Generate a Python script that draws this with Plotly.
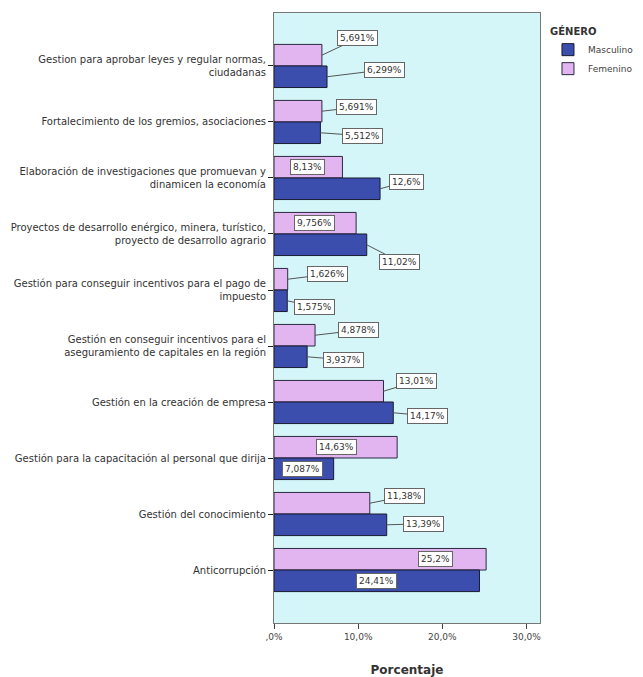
import plotly.graph_objects as go

categories = [
    "Gestion para aprobar leyes y regular normas,<br>ciudadanas",
    "Fortalecimiento de los gremios, asociaciones",
    "Elaboración de investigaciones que promuevan y<br>dinamicen la economía",
    "Proyectos de desarrollo enérgico, minera, turístico,<br>proyecto de desarrollo agrario",
    "Gestión para conseguir incentivos para el pago de<br>impuesto",
    "Gestión en conseguir incentivos para el<br>aseguramiento de capitales en la región",
    "Gestión en la creación de empresa",
    "Gestión para la capacitación al personal que dirija",
    "Gestión del conocimiento",
    "Anticorrupción",
]
masculino = [6.299, 5.512, 12.6, 11.02, 1.575, 3.937, 14.17, 7.087, 13.39, 24.41]
femenino = [5.691, 5.691, 8.13, 9.756, 1.626, 4.878, 13.01, 14.63, 11.38, 25.2]
masc_labels = ["6,299%", "5,512%", "12,6%", "11,02%", "1,575%", "3,937%", "14,17%", "7,087%", "13,39%", "24,41%"]
fem_labels = ["5,691%", "5,691%", "8,13%", "9,756%", "1,626%", "4,878%", "13,01%", "14,63%", "11,38%", "25,2%"]
x_tickvals = [0, 10, 20, 30]
x_ticktext = [",0%", "10,0%", "20,0%", "30,0%"]

# label callout offsets in pixels (style): (ax, ay) or inside shift (dx, None)
fem_offsets = [(36, -17), (35, -4), (-35, None), (-42, None), (40, -5), (43, -5), (33, -10), (-61, None), (35, -7), (-51, None)]
masc_offsets = [(57, -7), (42, 3), (26, -7), (33, 17), (27, 6), (36, 3), (34, 3), (-31, None), (37, -1), (-103, None)]

C_MASC = "#3c4ead"
C_FEM = "#e2b4f0"
BG = "#d4f6f8"
BARGAP = 0.23
FONT = "DejaVu Sans, Liberation Sans, Arial"

fig = go.Figure()
fig.add_trace(go.Bar(y=categories, x=femenino, orientation="h", name="Femenino",
                     marker=dict(color=C_FEM, line=dict(color="#2a2a40", width=1))))
fig.add_trace(go.Bar(y=categories, x=masculino, orientation="h", name="Masculino",
                     marker=dict(color=C_MASC, line=dict(color="#1a1a30", width=1))))

half = (1 - BARGAP) / 4
annotations = []
for i in range(len(categories)):
    for val, lab, off, dy in ((femenino[i], fem_labels[i], fem_offsets[i], -half),
                              (masculino[i], masc_labels[i], masc_offsets[i], half)):
        base = dict(x=val, y=i + dy, xref="x", yref="y", text=lab,
                    font=dict(family=FONT, size=9, color="#333"),
                    bgcolor="white", bordercolor="#666", borderwidth=1, borderpad=2)
        if off[1] is None:
            base.update(showarrow=False, xshift=off[0])
        else:
            base.update(showarrow=True, arrowhead=0, arrowwidth=1, arrowcolor="#555",
                        ax=off[0], ay=off[1], standoff=0)
        annotations.append(base)

# page body adds an 8px margin, so the figure is sized to fit the 643x677 window
fig.update_layout(
    width=635, height=669,
    margin=dict(l=266, r=103, t=5, b=54, autoexpand=False),
    paper_bgcolor="white", plot_bgcolor=BG,
    barmode="group", bargap=BARGAP, bargroupgap=0,
    font=dict(family=FONT, size=10, color="#333"),
    annotations=annotations,
    legend=dict(title=dict(text="<b>GÉNERO</b>", font=dict(size=10, color="#333"), side="top"),
                traceorder="reversed", x=1.03, xanchor="left", y=0.985, yanchor="top",
                font=dict(size=9, color="#444"), bgcolor="rgba(0,0,0,0)",
                itemwidth=30, tracegroupgap=0),
    xaxis=dict(range=[0, 31.6], tickvals=x_tickvals, ticktext=x_ticktext,
               tickfont=dict(size=9, color="#444", family=FONT), automargin=False,
               ticks="outside", ticklen=5, tickcolor="#444", showgrid=False, zeroline=False,
               showline=True, linecolor="#777", linewidth=1, mirror=True,
               title=dict(text="<b>Porcentaje</b>", font=dict(size=12, color="#333"), standoff=24)),
    yaxis=dict(categoryorder="array", categoryarray=categories, automargin=False,
               range=[len(categories) - 1 + 0.946, -0.946],
               tickfont=dict(size=10, color="#333", family=FONT),
               ticks="outside", ticklen=5, tickcolor="#222", showgrid=False, zeroline=False,
               showline=True, linecolor="#777", linewidth=1, mirror=True),
)

fig.write_html("out.html")
